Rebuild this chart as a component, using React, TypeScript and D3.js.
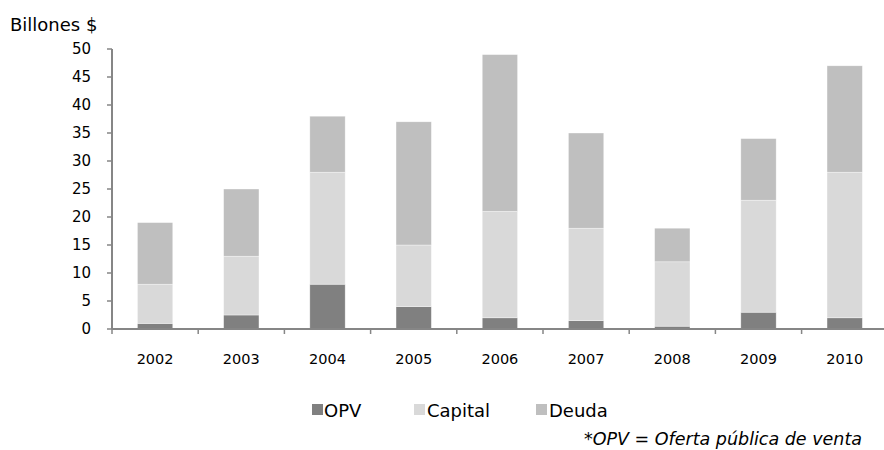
import React from 'react';
import * as d3 from 'd3';

const years = ['2002', '2003', '2004', '2005', '2006', '2007', '2008', '2009', '2010'];
const opv = [1, 2.5, 8, 4, 2, 1.5, 0.5, 3, 2];
const capital = [7, 10.5, 20, 11, 19, 16.5, 11.5, 20, 26];
const deuda = [11, 12, 10, 22, 28, 17, 6, 11, 19];
const seriesNames = ['OPV', 'Capital', 'Deuda'];
const seriesColors = ['#808080', '#d9d9d9', '#bfbfbf'];
const yTicks = [0, 5, 10, 15, 20, 25, 30, 35, 40, 45, 50];

const W = 884;
const H = 450;
const axisColor = '#868686';
const font = '"DejaVu Sans", Verdana, sans-serif';

export default function App() {
  const x0 = 112;
  const step = 86.2;
  const x1 = x0 + step * years.length;
  const x = d3.scaleBand().domain(years).range([x0, x1]).paddingInner(0.59).paddingOuter(0.295);
  const y = d3.scaleLinear().domain([0, 50]).range([329, 49]);

  const rows = years.map((yr, i) => ({ year: yr, OPV: opv[i], Capital: capital[i], Deuda: deuda[i] }));
  const stacked = d3.stack<any>().keys(seriesNames)(rows);

  // legend positions: square x, text x
  const legendPos = [
    { sx: 312, tx: 324 },
    { sx: 414, tx: 427 },
    { sx: 536, tx: 549 },
  ];

  return (
    <svg width={W} height={H} style={{ position: 'absolute', left: 0, top: 0, background: '#fff' }} fontFamily={font}>
      <text x={10} y={31} fontSize={18} fill="#000">Billones $</text>

      {stacked.map((layer, si) => (
        <g key={layer.key} fill={seriesColors[si]}>
          {layer.map((d, i) => (
            <rect
              key={i}
              x={x(years[i])}
              width={x.bandwidth()}
              y={y(d[1])}
              height={y(d[0]) - y(d[1])}
              stroke="#ffffff"
              strokeWidth={0.6}
              strokeOpacity={0.6}
            />
          ))}
        </g>
      ))}

      {/* y axis */}
      <line x1={x0} x2={x0} y1={y(50)} y2={y(0)} stroke={axisColor} strokeWidth={2} />
      {yTicks.map(t => (
        <g key={t}>
          <line x1={x0 - 5} x2={x0} y1={y(t)} y2={y(t)} stroke={axisColor} strokeWidth={1.5} />
          <text x={91} y={y(t)} dy="0.36em" textAnchor="end" fontSize={15} fill="#000">{t}</text>
        </g>
      ))}

      {/* x axis */}
      <line x1={x0} x2={x1} y1={y(0)} y2={y(0)} stroke={axisColor} strokeWidth={2} />
      {d3.range(years.length + 1).map(i => (
        <line key={i} x1={x0 + i * step} x2={x0 + i * step} y1={y(0)} y2={y(0) + 5} stroke={axisColor} strokeWidth={1.5} />
      ))}
      {years.map(yr => (
        <text key={yr} x={(x(yr) ?? 0) + x.bandwidth() / 2} y={364} textAnchor="middle" fontSize={14.5} fill="#000">{yr}</text>
      ))}

      {/* legend */}
      {legendPos.map((p, i) => (
        <g key={seriesNames[i]}>
          <rect x={p.sx} y={404} width={11} height={11} fill={seriesColors[i]} />
          <text x={p.tx} y={417} fontSize={18} fill="#000">{seriesNames[i]}</text>
        </g>
      ))}

      <text x={862} y={445} textAnchor="end" fontSize={17.5} fontStyle="italic" fill="#000">*OPV = Oferta pública de venta</text>
    </svg>
  );
}
